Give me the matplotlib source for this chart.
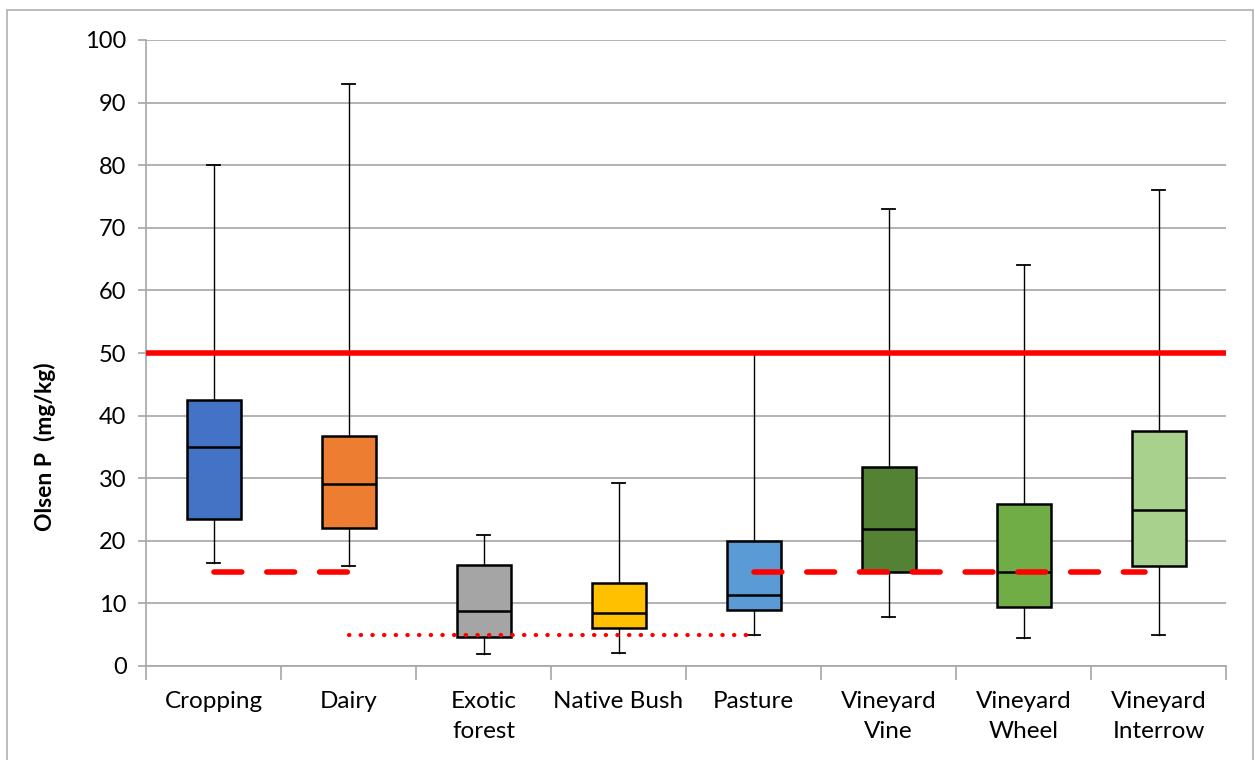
import matplotlib
matplotlib.use("Agg")
import matplotlib.pyplot as plt
from matplotlib.patches import Rectangle

categories = ["Cropping", "Dairy", "Exotic\nforest", "Native Bush", "Pasture",
              "Vineyard\nVine", "Vineyard\nWheel", "Vineyard\nInterrow"]
whisker_low = [16.5, 16.0, 1.9, 2.0, 4.9, 7.9, 4.4, 5.0]
q1 = [23.5, 22.0, 4.7, 6.0, 8.9, 15.0, 9.4, 16.0]
median = [35.0, 29.0, 8.8, 8.5, 11.3, 21.9, 15.0, 25.0]
q3 = [42.5, 36.7, 16.2, 13.2, 20.0, 31.8, 25.9, 37.5]
whisker_high = [80.0, 93.0, 20.9, 29.3, 50.0, 73.0, 64.0, 76.0]
colors = ["#4472C4", "#ED7D31", "#A5A5A5", "#FFC000", "#5B9BD5",
          "#548235", "#70AD47", "#A9D18E"]

upper_limit = 50
target_a = 15   # cropping/dairy
target_b = 5    # forest/bush
target_c = 15   # pasture/vineyard

plt.rcParams['font.family'] = ['Lato', 'DejaVu Sans']

fig = plt.figure(figsize=(12.55, 7.6), dpi=100)
fig.patches.append(Rectangle((7/1255, -0.1), (1253-7)/1255, 1.1 - 10/760,
                             transform=fig.transFigure, fill=False,
                             edgecolor="#b0b0b0", linewidth=1.2))
ax = fig.add_axes([146/1255, (760-666)/760, (1226-146)/1255, (666-40)/760])

stats = []
for i in range(len(categories)):
    stats.append(dict(med=median[i], q1=q1[i], q3=q3[i],
                      whislo=whisker_low[i], whishi=whisker_high[i], fliers=[]))
pos = list(range(len(categories)))
bp = ax.bxp(stats, positions=pos, widths=0.4, patch_artist=True,
            showfliers=False, capwidths=0.09,
            boxprops=dict(edgecolor="black", linewidth=1.8),
            medianprops=dict(color="black", linewidth=1.8),
            whiskerprops=dict(color="black", linewidth=1.0),
            capprops=dict(color="black", linewidth=1.3), zorder=3)
for patch, c in zip(bp['boxes'], colors):
    patch.set_facecolor(c)

ax.axhline(upper_limit, color="#FF0000", linewidth=4, zorder=4)
ax.plot([0, 1], [target_a, target_a], color="#FF0000", linewidth=4,
        linestyle=(0, (5, 4.5)), dash_capstyle="round", zorder=4)
ax.plot([1, 3.96], [target_b, target_b], color="#FF0000", linewidth=3,
        linestyle=(0, (0.1, 2.7)), dash_capstyle="round", zorder=4)
ax.plot([4, 6.9], [target_c, target_c], color="#FF0000", linewidth=4,
        linestyle=(0, (5, 4.5)), dash_capstyle="round", zorder=4)

ax.set_xlim(-0.5, 7.5)
ax.set_ylim(0, 100)
ax.set_yticks(range(0, 101, 10))
ax.yaxis.grid(True, color="#a6a6a6", linewidth=1.2, zorder=0)
ax.set_axisbelow(True)
ax.set_xticks([p + 0.5 for p in [-1] + pos])
ax.set_xticklabels([])
ax.set_xticks(pos, minor=True)
ax.set_xticklabels(categories, minor=True, fontsize=17.5, linespacing=1.5)
ax.tick_params(axis='x', which='minor', length=0, pad=18)
ax.tick_params(axis='x', which='major', length=10, color="#a6a6a6", width=1.2)
ax.tick_params(axis='y', length=6, color="#a6a6a6", width=1.2, labelsize=17, pad=8)
for s in ["top", "right"]:
    ax.spines[s].set_visible(False)
for s in ["left", "bottom"]:
    ax.spines[s].set_color("#a6a6a6")
    ax.spines[s].set_linewidth(1.2)
ax.set_ylabel("Olsen P  (mg/kg)", fontsize=16.5, fontweight="bold")
ax.yaxis.set_label_coords((56 - 146) / 1080, (666 - 447) / 626)

fig.savefig("out.png", dpi=100)
